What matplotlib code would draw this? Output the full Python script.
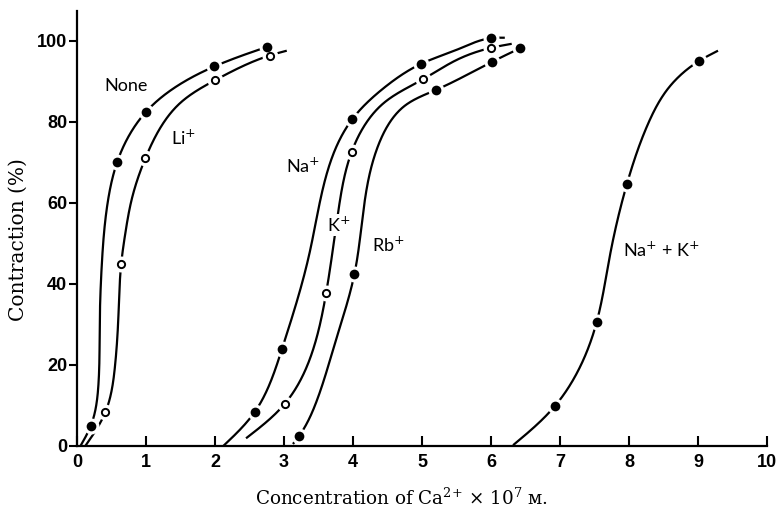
import numpy as np
import matplotlib
matplotlib.use("Agg")
import matplotlib.pyplot as plt

plt.rcParams["mathtext.fontset"] = "dejavuserif"

# ---------------- data ----------------
# measured points
none_x = [0.20, 0.58, 1.00, 1.99, 2.76]
none_y = [5.0, 70.0, 82.5, 93.7, 98.6]
li_x = [0.41, 0.64, 0.99, 2.00, 2.79]
li_y = [8.3, 44.9, 71.0, 90.3, 96.4]
na_x = [2.58, 2.97, 3.99, 4.98, 6.00]
na_y = [8.5, 23.9, 80.7, 94.3, 100.7]
k_x = [3.01, 3.61, 3.98, 5.02, 6.00]
k_y = [10.4, 37.7, 72.6, 90.6, 98.3]
rb_x = [3.22, 4.02, 5.20, 6.01, 6.42]
rb_y = [2.5, 42.4, 87.9, 94.8, 98.2]
nak_x = [6.93, 7.53, 7.97, 9.01]
nak_y = [9.95, 30.5, 64.7, 95.0]

# hand-drawn fitted curves
none_cx = [0.05, 0.20, 0.31, 0.33, 0.36, 0.45, 0.58, 1.00, 1.49, 1.99, 2.80]
none_cy = [0.0, 5.0, 15.0, 31.0, 45.0, 60.7, 70.0, 82.5, 89.3, 93.7, 98.8]
li_cx = [0.12, 0.41, 0.55, 0.60, 0.64, 0.70, 0.79, 0.99, 1.49, 2.00, 2.79, 3.04]
li_cy = [0.0, 8.3, 19.6, 32.0, 44.9, 52.5, 60.7, 71.0, 84.6, 90.3, 96.4, 97.6]
na_cx = [2.12, 2.58, 2.97, 3.38, 3.99, 4.44, 4.98, 5.50, 6.00, 6.20]
na_cy = [0.0, 8.5, 23.9, 48.4, 80.7, 88.3, 94.3, 97.8, 100.7, 100.8]
k_cx = [2.45, 3.01, 3.61, 3.79, 3.98, 4.44, 5.02, 5.50, 6.00, 6.30]
k_cy = [1.9, 10.4, 37.7, 58.3, 72.6, 84.6, 90.6, 95.3, 98.3, 99.3]
rb_cx = [3.13, 3.22, 3.48, 3.75, 4.02, 4.15, 4.35, 4.75, 5.20, 6.01, 6.42]
rb_cy = [0.5, 2.5, 11.4, 26.0, 42.4, 58.0, 73.5, 84.0, 87.9, 94.8, 98.2]
nak_cx = [6.32, 6.93, 7.26, 7.53, 7.72, 7.97, 8.28, 8.55, 9.01, 9.29]
nak_cy = [0.2, 9.95, 18.5, 30.5, 46.7, 64.7, 79.7, 87.9, 95.0, 97.6]

x_ticks = [0, 1, 2, 3, 4, 5, 6, 7, 8, 9, 10]
y_ticks = [0, 20, 40, 60, 80, 100]

labels = ["None", "Li$^{+}$", "Na$^{+}$", "K$^{+}$", "Rb$^{+}$", "Na$^{+}$ + K$^{+}$"]
label_x = [0.71, 1.54, 3.27, 3.79, 4.51, 8.47]
label_y = [89.0, 76.0, 69.2, 54.6, 49.5, 48.4]

# ---------------- helpers ----------------
SX, SY = 69.0, 4.05  # approximate pixel scale used for the curve parametrisation


def _natural(t, v):
    n = len(t)
    h = np.diff(t)
    A = np.zeros((n, n))
    r = np.zeros(n)
    A[0, 0] = 1.0
    A[-1, -1] = 1.0
    for i in range(1, n - 1):
        A[i, i - 1] = h[i - 1]
        A[i, i] = 2 * (h[i - 1] + h[i])
        A[i, i + 1] = h[i]
        r[i] = 3 * ((v[i + 1] - v[i]) / h[i] - (v[i] - v[i - 1]) / h[i - 1])
    c = np.linalg.solve(A, r)
    b = (v[1:] - v[:-1]) / h - h * (2 * c[:-1] + c[1:]) / 3
    d = (c[1:] - c[:-1]) / (3 * h)
    return b, c[:-1], d


def smooth(xs, ys, n=600):
    P = np.column_stack([np.asarray(xs) * SX, np.asarray(ys) * SY])
    seg = np.linalg.norm(np.diff(P, axis=0), axis=1)
    t = np.concatenate([[0.0], np.cumsum(seg)])
    tt = np.linspace(0, t[-1], n)
    idx = np.clip(np.searchsorted(t, tt, side="right") - 1, 0, len(t) - 2)
    dt = tt - t[idx]
    out = []
    for k in range(2):
        b, c, d = _natural(t, P[:, k])
        out.append(P[idx, k] + b[idx] * dt + c[idx] * dt ** 2 + d[idx] * dt ** 3)
    return out[0] / SX, out[1] / SY


# ---------------- figure ----------------
fig = plt.figure(figsize=(7.78, 5.08), dpi=100)
ax = fig.add_axes([77 / 778, 62 / 508, 690 / 778, 435 / 508])
ax.set_xlim(0, 10)
ax.set_ylim(0, 107.4)

for cx, cy in [(none_cx, none_cy), (li_cx, li_cy), (na_cx, na_cy),
               (k_cx, k_cy), (rb_cx, rb_cy), (nak_cx, nak_cy)]:
    sx, sy = smooth(cx, cy)
    ax.plot(sx, sy, color="black", lw=1.6, solid_capstyle="butt", zorder=2,
            clip_on=False)

filled = [(none_x, none_y), (na_x, na_y), (rb_x, rb_y), (nak_x, nak_y)]
opened = [(li_x, li_y), (k_x, k_y)]
for px, py in filled + opened:
    ax.plot(px, py, "o", ms=11.5, color="white", mew=0, zorder=3, clip_on=False)
for px, py in filled:
    ax.plot(px, py, "o", ms=7, color="black", mew=0, zorder=4, clip_on=False)
for px, py in opened:
    ax.plot(px, py, "o", ms=5.2, mfc="white", mec="black", mew=1.4, zorder=4,
            clip_on=False)

for t, lx, ly in zip(labels, label_x, label_y):
    bb = None
    if t.startswith("K"):
        bb = dict(facecolor="white", edgecolor="none", pad=1.0)
    ax.text(lx, ly, t, fontsize=13, family=["Lato", "DejaVu Sans"],
            ha="center", va="center", zorder=5, bbox=bb,
            math_fontfamily="dejavusans")

# axes styling
for s in ["top", "right"]:
    ax.spines[s].set_visible(False)
for s in ["left", "bottom"]:
    ax.spines[s].set_linewidth(1.6)
ax.set_xticks(x_ticks)
ax.set_yticks(y_ticks)
ax.tick_params(axis="x", direction="in", length=7, width=1.5, pad=6)
ax.tick_params(axis="y", direction="out", length=6, width=1.5, pad=1)
for lab in ax.get_xticklabels() + ax.get_yticklabels():
    lab.set_fontfamily("Liberation Sans")
    lab.set_fontweight("bold")
    lab.set_fontsize(13)

ax.set_xlabel("Concentration of Ca$^{2{+}}$ \u00d7 10$^{7}$ \u1d0d.",
              fontsize=13.2, family=["DejaVu Serif", "DejaVu Sans"], va="center")
ax.xaxis.set_label_coords(0.471, -0.1195)
ax.set_ylabel("Contraction (%)", fontsize=14.5, family=["DejaVu Serif"],
              va="center")
ax.yaxis.set_label_coords(-0.0855, 0.474)

fig.savefig("out.png", dpi=100)
